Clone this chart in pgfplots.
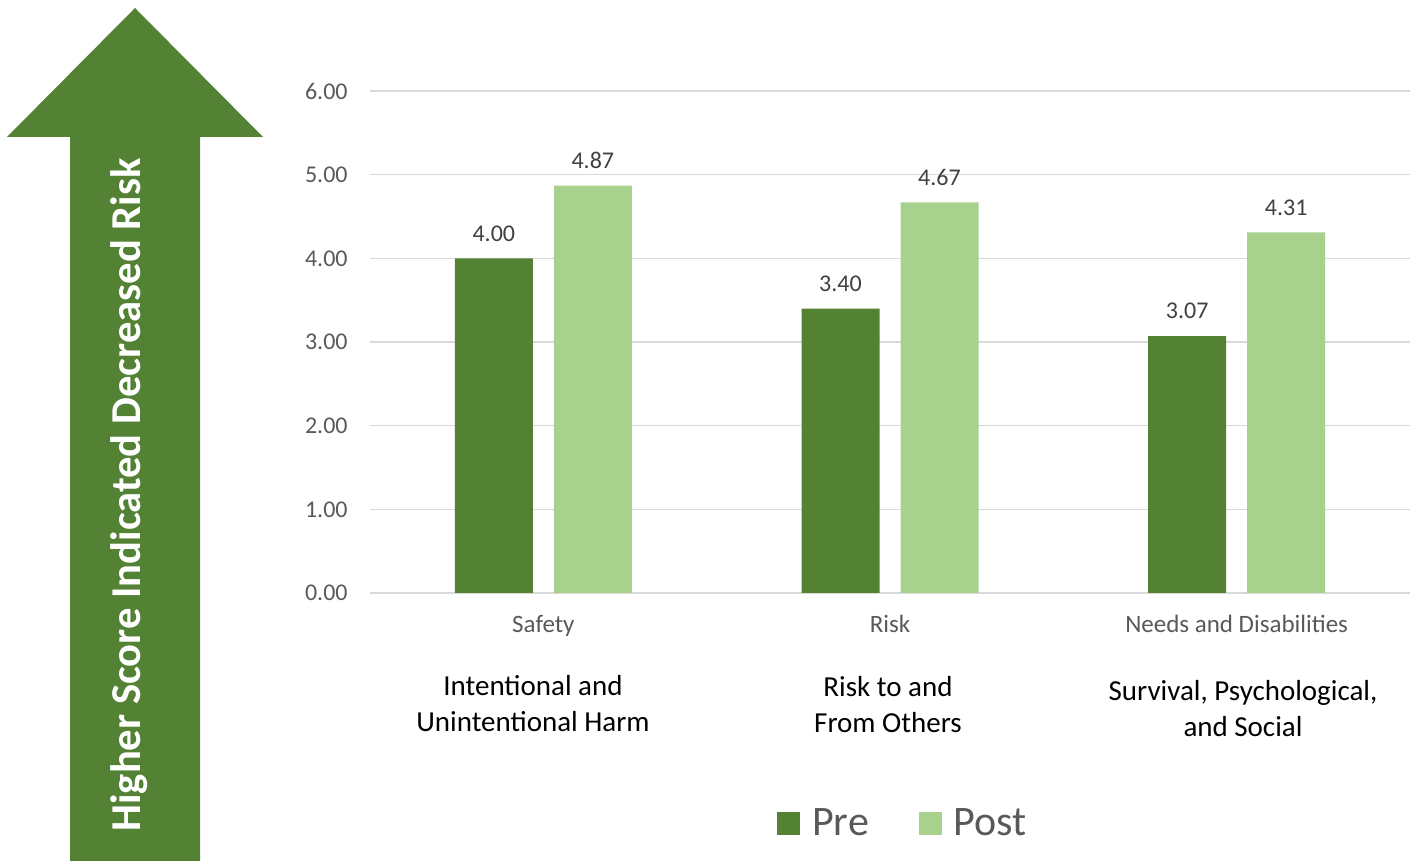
\documentclass[border=0pt]{standalone}
\usepackage{pgfplots}
\pgfplotsset{compat=1.18}
\usepackage{fontspec}
\setmainfont{Carlito}
\definecolor{pre}{HTML}{548235}
\definecolor{post}{HTML}{A9D18E}
\definecolor{gridc}{HTML}{D9D9D9}
\definecolor{tickc}{HTML}{595959}
\definecolor{labc}{HTML}{404040}
\begin{document}
\begin{tikzpicture}[x=1pt,y=1pt]
\useasboundingbox (0,0) rectangle (707.5,430.5);
\fill[pre] (67.5,426.5) -- (131.5,362) -- (100,362) -- (100,0) -- (35,0) -- (35,362) -- (3.5,362) -- cycle;
\node[rotate=90, text=white, font=\fontsize{21.3}{25}\selectfont\bfseries] at (64.5,183) {Higher Score Indicated Decreased Risk};
\begin{axis}[
  at={(185pt,134pt)}, anchor=south west, scale only axis,
  width=520pt, height=251pt,
  xmin=-0.5, xmax=2.5, ymin=0, ymax=6,
  ybar=10.5pt, bar width=39pt,
  xtick={0,1,2}, xticklabels={Safety,Risk,Needs and Disabilities},
  ytick={0,1,2,3,4,5,6},
  ymajorgrids, grid style={gridc, line width=0.75pt},
  axis line style={draw=none}, tick style={draw=none},
  /pgf/number format/assume math mode=true,
  yticklabel style={/pgf/number format/fixed, /pgf/number format/fixed zerofill, /pgf/number format/precision=2, /pgf/number format/assume math mode=true},
  yticklabel style={font=\fontsize{12}{14}\selectfont, text=tickc, inner sep=0pt, xshift=-11pt},
  xticklabel style={font=\fontsize{12.5}{15}\selectfont, text=tickc, inner sep=0pt, yshift=-6.5pt},
  nodes near coords={\pgfmathprintnumber[fixed,fixed zerofill,precision=2,assume math mode=true]{\pgfplotspointmeta}},
  every node near coord/.append style={font=\fontsize{12}{14}\selectfont, text=labc, inner sep=0pt, anchor=south, yshift=8.3pt},
  legend style={at={(0.5135,-0.46)}, anchor=center, draw=none, fill=none, legend columns=2,
     font=\fontsize{21}{24}\selectfont, text=tickc,
     /tikz/every even column/.append style={column sep=23pt}},
  legend image code/.code={\fill[#1] (0pt,-5.75pt) rectangle (11.5pt,5.75pt); \path (15.5pt,0pt);},
]
\addplot[fill=pre, draw=none] coordinates {(0,4.00) (1,3.40) (2,3.07)};
\addplot[fill=post, draw=none] coordinates {(0,4.87) (1,4.67) (2,4.31)};
\legend{Pre,Post}
\end{axis}
\node[align=center, font=\fontsize{14.5}{18}\selectfont] at (266.5,78.5) {Intentional and\\Unintentional Harm};
\node[align=center, font=\fontsize{14.5}{18}\selectfont] at (444,78.25) {Risk to and\\From Others};
\node[align=center, font=\fontsize{14.5}{18}\selectfont] at (621.5,76) {Survival, Psychological,\\and Social};
\end{tikzpicture}
\end{document}
